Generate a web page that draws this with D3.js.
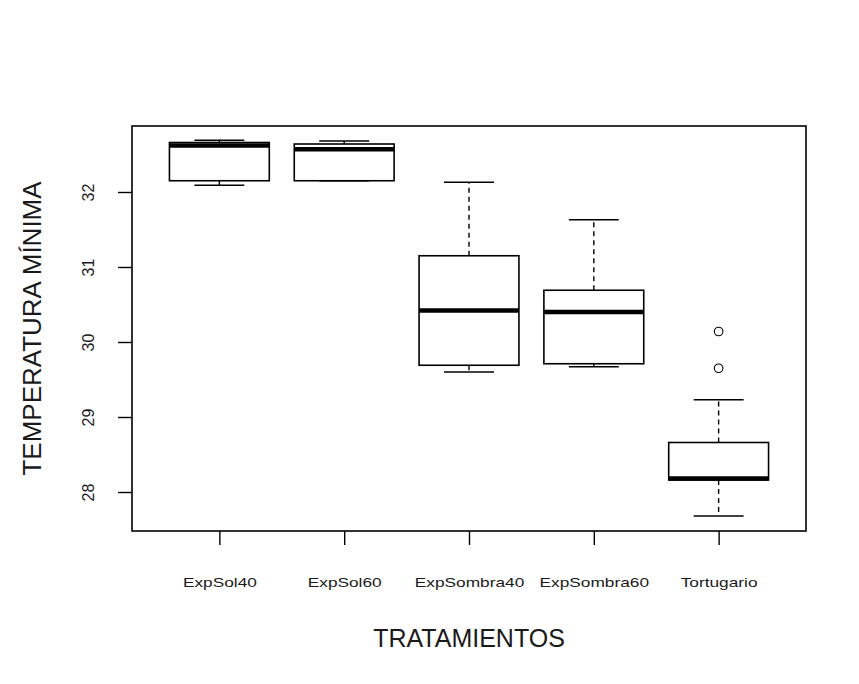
<!DOCTYPE html>
<html>
<head>
<meta charset="utf-8">
<script src="https://cdn.jsdelivr.net/npm/d3@7"></script>
<style>
  html, body { margin: 0; padding: 0; background: #ffffff; }
  svg { display: block; }
  text { font-family: "Liberation Sans", Arial, sans-serif; fill: #1a1a1a; }
</style>
</head>
<body>
<svg id="chart" width="859" height="684"></svg>
<script>
// Minimum temperature by treatment: five-number summaries per group
const categories   = ["ExpSol40", "ExpSol60", "ExpSombra40", "ExpSombra60", "Tortugario"];
const whiskerLow   = [32.09, 32.15, 29.60, 29.67, 27.68];
const quartile1    = [32.15, 32.15, 29.69, 29.71, 28.16];
const medians      = [32.62, 32.57, 30.42, 30.40, 28.18];
const quartile3    = [32.66, 32.64, 31.15, 30.69, 28.66];
const whiskerHigh  = [32.69, 32.68, 32.13, 31.63, 29.23];
const outliers     = [[], [], [], [], [30.14, 29.65]];
const yTicks       = [28, 29, 30, 31, 32];
const xTitle = "TRATAMIENTOS";
const yTitle = "TEMPERATURA MÍNIMA";

const svg = d3.select("#chart");
const plot = { left: 132, right: 806, top: 126, bottom: 531 };

// Group positions 1..n with the usual 4% padding around [0.5, n+0.5]
const n = categories.length;
const x = d3.scaleLinear()
  .domain([0.5 - 0.04 * n, n + 0.5 + 0.04 * n])
  .range([plot.left, plot.right]);
const y = d3.scaleLinear()
  .domain([27.48, 32.88])
  .range([plot.bottom, plot.top]);

const boxHalf = x(1.4) - x(1);   // box half width (0.4 units)
const capHalf = boxHalf / 2;     // staple half width

const rows = categories.map((c, i) => ({
  name: c, pos: i + 1,
  lo: whiskerLow[i], q1: quartile1[i], med: medians[i],
  q3: quartile3[i], hi: whiskerHigh[i], out: outliers[i]
}));

const g = svg.append("g");

rows.forEach(d => {
  const cx = x(d.pos);
  const grp = g.append("g");
  // dashed whiskers
  [[d.q3, d.hi], [d.q1, d.lo]].forEach(([a, b]) => {
    grp.append("line")
      .attr("x1", cx).attr("x2", cx)
      .attr("y1", y(a)).attr("y2", y(b))
      .attr("stroke", "#000").attr("stroke-width", 1.4)
      .attr("stroke-dasharray", "5,4");
  });
  // staples
  [d.lo, d.hi].forEach(v => {
    grp.append("line")
      .attr("x1", cx - capHalf).attr("x2", cx + capHalf)
      .attr("y1", y(v)).attr("y2", y(v))
      .attr("stroke", "#000").attr("stroke-width", 1.6);
  });
  // box
  grp.append("rect")
    .attr("x", cx - boxHalf).attr("width", 2 * boxHalf)
    .attr("y", y(d.q3)).attr("height", y(d.q1) - y(d.q3))
    .attr("fill", "none").attr("stroke", "#000").attr("stroke-width", 1.6);
  // median
  grp.append("line")
    .attr("x1", cx - boxHalf).attr("x2", cx + boxHalf)
    .attr("y1", y(d.med)).attr("y2", y(d.med))
    .attr("stroke", "#000").attr("stroke-width", 4.5);
  // outlying points
  grp.selectAll("circle").data(d.out).join("circle")
    .attr("cx", cx).attr("cy", v => y(v)).attr("r", 4.3)
    .attr("fill", "none").attr("stroke", "#000").attr("stroke-width", 1.1);
});

// frame
svg.append("rect")
  .attr("x", plot.left).attr("y", plot.top)
  .attr("width", plot.right - plot.left).attr("height", plot.bottom - plot.top)
  .attr("fill", "none").attr("stroke", "#000").attr("stroke-width", 1.6);

// y axis
const yAxis = d3.axisLeft(y).tickValues(yTicks).tickSize(14).tickPadding(0).tickFormat(d3.format("d"));
const ya = svg.append("g").attr("transform", `translate(${plot.left},0)`).call(yAxis);
ya.select(".domain").remove();
ya.selectAll(".tick line").attr("stroke", "#000").attr("stroke-width", 1.4);
ya.selectAll(".tick text")
  .attr("x", null).attr("dy", null)
  .attr("text-anchor", "middle")
  .attr("transform", "translate(-38,0) rotate(-90)")
  .style("font-size", "16px");

// x axis
const xAxis = d3.axisBottom(x).tickValues(rows.map(d => d.pos)).tickSize(14)
  .tickFormat((d, i) => categories[i]);
const xa = svg.append("g").attr("transform", `translate(0,${plot.bottom})`).call(xAxis);
xa.select(".domain").remove();
xa.selectAll(".tick line").attr("stroke", "#000").attr("stroke-width", 1.4);
xa.selectAll(".tick text")
  .attr("y", null).attr("dy", null)
  .attr("transform", "translate(0,56) scale(1.28,1)")
  .style("font-size", "13.5px");

// titles
svg.append("text")
  .attr("x", (plot.left + plot.right) / 2).attr("y", 647)
  .attr("text-anchor", "middle")
  .style("font-size", "25px")
  .text(xTitle);
svg.append("text")
  .attr("transform", `translate(41,${(plot.top + plot.bottom) / 2}) rotate(-90)`)
  .attr("text-anchor", "middle")
  .style("font-size", "26px")
  .text(yTitle);
</script>
</body>
</html>
